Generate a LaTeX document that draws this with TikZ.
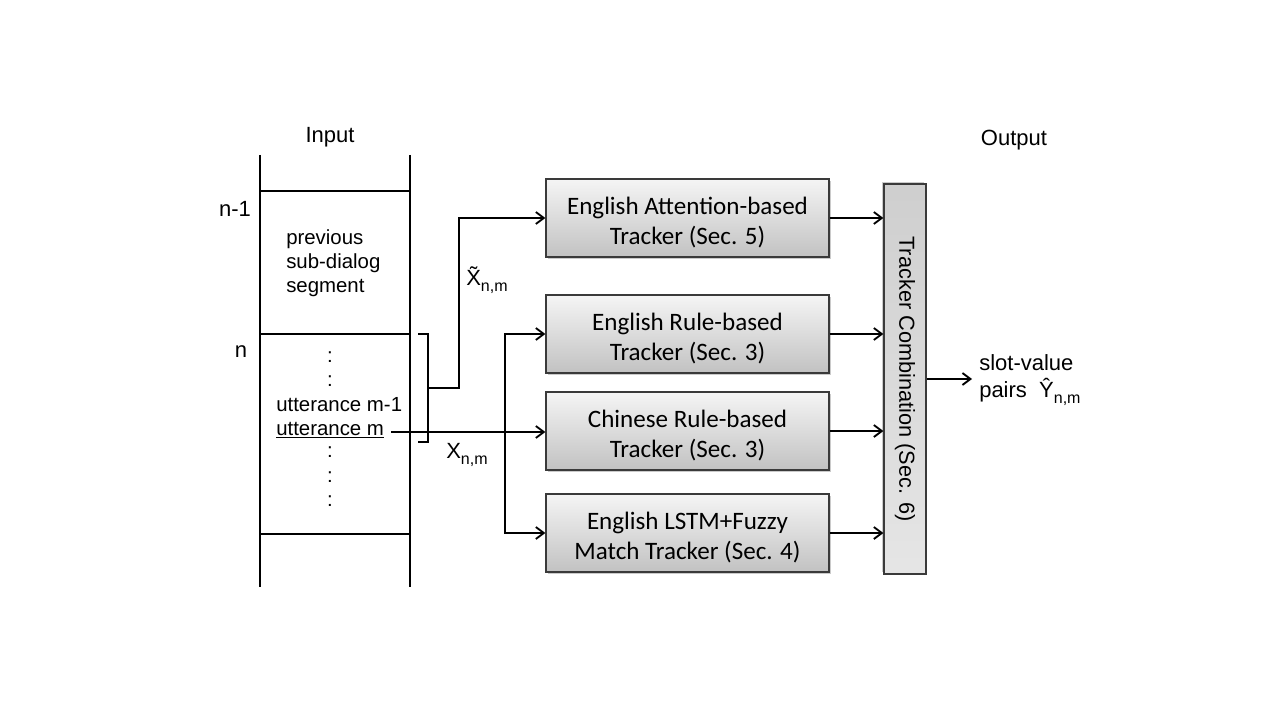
\documentclass[tikz,border=0pt]{standalone}
\usepackage{fontspec}
\setmainfont{Liberation Sans}
\newfontfamily\boxfont{Carlito}
\usetikzlibrary{arrows.meta,shadows}
\definecolor{boxline}{HTML}{3A3A3A}
\newcommand{\subnm}{\raisebox{-4.5pt}{\fontsize{12pt}{12pt}\selectfont n,m}}
\tikzset{
  px/.style={x=0.75pt,y=-0.75pt},
  thinline/.style={line width=0.9pt,black},
  conn/.style={line width=1.6pt,black,-{Straight Barb[length=6pt,width=9pt,line width=1.4pt]}},
  plainconn/.style={line width=1.6pt,black},
  tracker/.style={draw=boxline,line width=0.9pt,top color=white!96!black,bottom color=white!76!black,
    minimum width=283*0.75pt,minimum height=78*0.75pt,inner sep=0pt,align=center,
    text height=39pt,text depth=0pt,
    font=\boxfont\fontsize{18.8pt}{22.5pt}\selectfont,
    drop shadow={shadow xshift=1.2pt,shadow yshift=-1.2pt,opacity=0.35,fill=black!60}},
  combo/.style={draw=boxline,line width=0.9pt,top color=white!81!black,bottom color=white!90!black,
    minimum width=390*0.75pt,minimum height=42*0.75pt,inner sep=0pt,rotate=-90,
    font=\fontsize{16.3pt}{19pt}\selectfont,
    drop shadow={shadow xshift=-1.2pt,shadow yshift=1.2pt,opacity=0.35,fill=black!60}},
  lbl/.style={font=\fontsize{16.5pt}{19pt}\selectfont,inner sep=0pt},
  small/.style={font=\fontsize{15.3pt}{18pt}\selectfont,inner sep=0pt},
}
\begin{document}
\begin{tikzpicture}[px]
\useasboundingbox (0,0) rectangle (1280,720);
% Input column
\coordinate (cTL) at (260,155); \coordinate (cBL) at (260,587);
\coordinate (cTR) at (410,155); \coordinate (cBR) at (410,587);
\draw[thinline] (cTL) -- (cBL);
\draw[thinline] (cTR) -- (cBR);
\coordinate (h1l) at (260,191); \coordinate (h1r) at (410,191);
\coordinate (h2l) at (260,334); \coordinate (h2r) at (410,334);
\coordinate (h3l) at (260,534); \coordinate (h3r) at (410,534);
\draw[thinline] (h1l) -- (h1r);
\draw[thinline] (h2l) -- (h2r);
\draw[thinline] (h3l) -- (h3r);

\node[lbl] (input) at (330,137) {Input};
\node[lbl] (output) at (1014,140) {Output};
\node[lbl] (nm1) at (235,209) {n-1};
\node[lbl] (nn) at (241,352) {n};
\node[small,align=left,anchor=north west] (prev) at (286,229) {previous\\sub-dialog\\segment};
\node[small] (d1) at (330,357) {:};
\node[small] (d2) at (330,381) {:};
\node[small,anchor=west] (um1) at (276,405) {utterance m-1};
\node[small,anchor=west] (um) at (276,430) {\underline{utterance m}};
\node[small] (d3) at (330,452) {:};
\node[small] (d4) at (330,477) {:};
\node[small] (d5) at (330,501) {:};

% trackers
\node[tracker] (t1) at (687.5,218) {English Attention-based\\Tracker (Sec. 5)};
\node[tracker] (t2) at (687.5,334) {English Rule-based\\Tracker (Sec. 3)};
\node[tracker] (t3) at (687.5,431) {Chinese Rule-based\\Tracker (Sec. 3)};
\node[tracker] (t4) at (687.5,533) {English LSTM+Fuzzy\\Match Tracker (Sec. 4)};
% rotated by -90: its south side faces left, its north side faces right
\node[combo] (comb) at (905,379) {Tracker Combination (Sec. 6)};

% bracket
\coordinate (bt0) at (418,334); \coordinate (bt1) at (428,334);
\coordinate (bb0) at (418,442); \coordinate (bb1) at (428,442);
\coordinate (bm) at (428,388); \coordinate (bup) at (459,388); \coordinate (btop) at (459,218);
\draw[plainconn,line join=miter] (bt0) -- (bt1) -- (bb1) -- (bb0);
\draw[conn,line join=miter] (bm) -- (bup) -- (btop) -- (t1.west);

% utterance m connection
\coordinate (us) at (391,432);
\coordinate (split) at (505,432);
\draw[conn] (us) -- (t3.west |- us);
\draw[conn,line join=miter] (split) |- (t2.west);
\draw[conn,line join=miter] (split) |- (t4.west);

% labels
\node[lbl,anchor=west] (xt) at (466,280) {\~{X}\subnm};
\node[lbl,anchor=west] (x) at (446,455) {X\subnm};

% to combination
\draw[conn] (t1.east) -- (t1.east -| comb.south);
\draw[conn] (t2.east) -- (t2.east -| comb.south);
\draw[conn] (t3.east) -- (t3.east -| comb.south);
\draw[conn] (t4.east) -- (t4.east -| comb.south);

% output
\coordinate (outend) at (972,379);
\draw[conn] (comb.north |- outend) -- (outend);
\node[lbl,anchor=west,align=left,font=\fontsize{16.5pt}{20pt}\selectfont] (sv) at (979,380) {slot-value\\pairs\ \ \^{Y}\subnm};
\end{tikzpicture}
\end{document}
